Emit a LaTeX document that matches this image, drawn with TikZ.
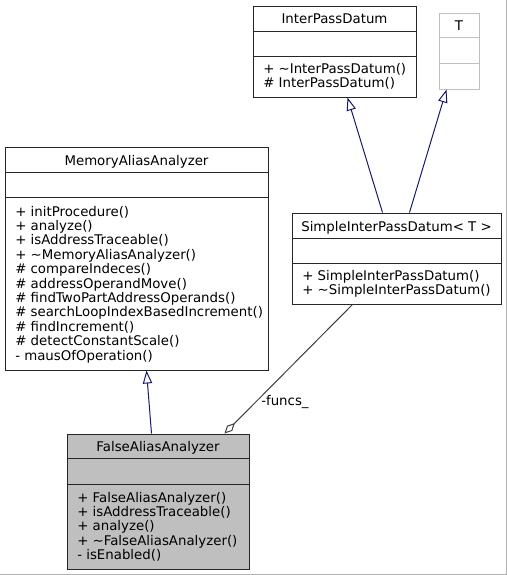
\documentclass[tikz,border=0pt]{standalone}
\usepackage{fontspec}
\setmainfont{DejaVu Sans}
\usetikzlibrary{arrows.meta,calc,fit}
\definecolor{midnightblue}{RGB}{25,25,112}
\definecolor{grey25}{RGB}{64,64,64}
\definecolor{grey75}{RGB}{191,191,191}
\begin{document}
\begin{tikzpicture}[x=0.75pt,y=-0.75pt,
  txt/.style={font=\fontsize{10pt}{10.8pt}\selectfont, text=black, inner sep=0pt},
  classbox/.style={draw=black!85, line width=0.75pt, inner sep=0pt, fill=white},
  sepline/.style={draw=black!85, line width=0.75pt},
  inherit/.style={draw=midnightblue, line width=0.75pt, -{Triangle[open,length=9.75pt,width=7pt,fill=white]}},
  aggreg/.style={draw=grey25, line width=0.75pt, -{Diamond[open,length=11pt,width=5.5pt,fill=white]}},
]
\useasboundingbox (0,0) rectangle (507,575);
\fill[white] (0,0) rectangle (507,575);
\draw[gray!60, line width=0.75pt] (0,574.5) -- (506.5,574.5) -- (506.5,0);

% InterPassDatum
\node[classbox, fit={(253,6) (416,97)}] (ipd) {};
\draw[sepline] ($(ipd.north west)+(0,26)$) -- ($(ipd.north east)+(0,26)$);
\draw[sepline] ($(ipd.north west)+(0,51)$) -- ($(ipd.north east)+(0,51)$);
\node[txt, anchor=base] (ipdt) at (334.5,23) {InterPassDatum};
\node[txt, anchor=north west, align=left] (ipdm) at (263,62.7) {+ \textasciitilde InterPassDatum()\\\# InterPassDatum()};

% T
\node[classbox, draw=grey75, fit={(439,13) (479,89)}] (t) {};
\draw[sepline, draw=grey75] ($(t.north west)+(0,25)$) -- ($(t.north east)+(0,25)$);
\draw[sepline, draw=grey75] ($(t.north west)+(0,51)$) -- ($(t.north east)+(0,51)$);
\node[txt, anchor=base] (tt) at (459,30) {T};

% SimpleInterPassDatum
\node[classbox, fit={(292,213) (501,304)}] (spd) {};
\draw[sepline] ($(spd.north west)+(0,26)$) -- ($(spd.north east)+(0,26)$);
\draw[sepline] ($(spd.north west)+(0,51)$) -- ($(spd.north east)+(0,51)$);
\node[txt, anchor=base] (spdt) at (396.5,231) {SimpleInterPassDatum< T >};
\node[txt, anchor=north west, align=left] (spdm) at (302,269.7) {+ SimpleInterPassDatum()\\+ \textasciitilde SimpleInterPassDatum()};

% MemoryAliasAnalyzer
\node[classbox, fit={(5,147) (268,370)}] (maa) {};
\draw[sepline] ($(maa.north west)+(0,26)$) -- ($(maa.north east)+(0,26)$);
\draw[sepline] ($(maa.north west)+(0,51)$) -- ($(maa.north east)+(0,51)$);
\node[txt, anchor=base] (maat) at (136.5,165) {MemoryAliasAnalyzer};
\node[txt, anchor=north west, align=left] (maam) at (15,205.7) {+ initProcedure()\\+ analyze()\\+ isAddressTraceable()\\+ \textasciitilde MemoryAliasAnalyzer()\\\# compareIndeces()\\\# addressOperandMove()\\\# findTwoPartAddressOperands()\\\# searchLoopIndexBasedIncrement()\\\# findIncrement()\\\# detectConstantScale()\\- mausOfOperation()};

% FalseAliasAnalyzer
\node[classbox, fill=grey75, fit={(67,434) (249,569)}] (faa) {};
\draw[sepline] ($(faa.north west)+(0,25)$) -- ($(faa.north east)+(0,25)$);
\draw[sepline] ($(faa.north west)+(0,51)$) -- ($(faa.north east)+(0,51)$);
\node[txt, anchor=base] (faat) at (158,451) {FalseAliasAnalyzer};
\node[txt, anchor=north west, align=left] (faam) at (77,491.7) {+ FalseAliasAnalyzer()\\+ isAddressTraceable()\\+ analyze()\\+ \textasciitilde FalseAliasAnalyzer()\\- isEnabled()};

% connectors
\draw[inherit] ($(spd.north west)+(91,0)$) -- ($(ipd.south west)+(95,0)$);
\draw[inherit] ($(spd.north west)+(118,0)$) -- ($(t.south west)+(8,0)$);
\draw[inherit] ($(faa.north west)+(85,0)$) -- ($(maa.south west)+(142,0)$);
\draw[aggreg] ($(spd.south west)+(61,0)$) -- ($(faa.north west)+(158,0)$);
\node[txt, anchor=base west] (funcs) at (261,405.5) {-funcs\_};
\end{tikzpicture}
\end{document}
